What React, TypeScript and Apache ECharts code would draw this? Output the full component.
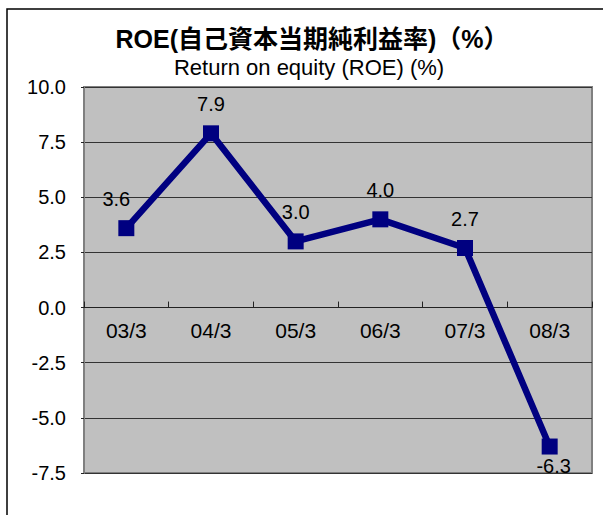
import React, { useEffect, useRef } from "react";
import * as echarts from "echarts";

const categories = ["03/3", "04/3", "05/3", "06/3", "07/3", "08/3"];
const roeValues = [3.6, 7.9, 3.0, 4.0, 2.7, -6.3];
const yMin = -7.5;
const yMax = 10;
const yStep = 2.5;
const titleJa = "ROE(自己資本当期純利益率)（%）";
const titleEn = "Return on equity (ROE) (%)";

export default function App() {
  const ref = useRef<HTMLDivElement>(null);
  useEffect(() => {
    if (!ref.current) return;
    const chart = echarts.init(ref.current, null, { renderer: "svg" });
    const font = "'Liberation Sans', Arial, sans-serif";
    const H = 515;
    const gridTop = 87;
    const gridBottom = 42;
    const gridH = H - gridTop - gridBottom;
    const zeroOffset = -gridH * ((0 - yMin) / (yMax - yMin));
    chart.setOption({
      animation: false,
      backgroundColor: "#ffffff",
      textStyle: { fontFamily: font },
      graphic: [
        {
          type: "rect",
          shape: { x: 7, y: 9, width: 640, height: 560 },
          style: { fill: "none", stroke: "#000", lineWidth: 1.5 },
          silent: true,
          z: -10,
        },
        {
          type: "text",
          x: 312,
          y: 39,
          style: {
            text: titleJa,
            font: "bold 25px 'Liberation Sans', 'Noto Sans CJK JP', sans-serif",
            fill: "#000",
            align: "center",
            verticalAlign: "middle",
          },
        },
        {
          type: "text",
          x: 309,
          y: 67,
          style: {
            text: titleEn,
            font: "22px 'Liberation Sans', Arial, sans-serif",
            fill: "#000",
            align: "center",
            verticalAlign: "middle",
          },
        },
      ],
      grid: {
        left: 84,
        top: gridTop,
        right: 11,
        bottom: gridBottom,
        show: true,
        backgroundColor: "#c0c0c0",
        borderColor: "#808080",
        borderWidth: 2,
      },
      xAxis: {
        type: "category",
        data: categories,
        boundaryGap: true,
        position: "bottom",
        offset: zeroOffset,
        axisLine: { show: true, onZero: false, lineStyle: { color: "#222", width: 1.2 } },
        axisTick: { show: true, inside: true, length: 6, lineStyle: { color: "#222" } },
        axisLabel: { margin: 12, fontSize: 21, color: "#000", fontFamily: font },
        splitLine: { show: false },
      },
      yAxis: {
        type: "value",
        min: yMin,
        max: yMax,
        interval: yStep,
        axisLine: { show: true, lineStyle: { color: "#808080", width: 2 } },
        axisTick: { show: true, inside: false, length: 3, lineStyle: { color: "#222" } },
        axisLabel: {
          margin: 18,
          fontSize: 20,
          color: "#000",
          fontFamily: font,
          formatter: (v: number) => v.toFixed(1),
        },
        splitLine: { show: true, lineStyle: { color: "#333", width: 1.2 } },
      },
      series: [
        {
          type: "line",
          data: roeValues.map((v, i) => ({
            value: v,
            label: {
              position: v < 0 ? "bottom" : "top",
              distance: v < 0 ? 1 : 11,
              offset: i === 0 ? [-10, 0] : i === 5 ? [4, 0] : [0, 0],
            },
          })),
          symbol: "rect",
          symbolSize: 16,
          lineStyle: { color: "#000080", width: 6.5 },
          itemStyle: { color: "#000080" },
          label: {
            show: true,
            distance: 11,
            fontSize: 20,
            color: "#000",
            fontFamily: font,
            formatter: (p: any) => Number(p.value).toFixed(1),
          },
        },
      ],
    });
    return () => chart.dispose();
  }, []);
  return (
    <div
      ref={ref}
      style={{ position: "fixed", left: 0, top: 0, width: 603, height: 515 }}
    />
  );
}
